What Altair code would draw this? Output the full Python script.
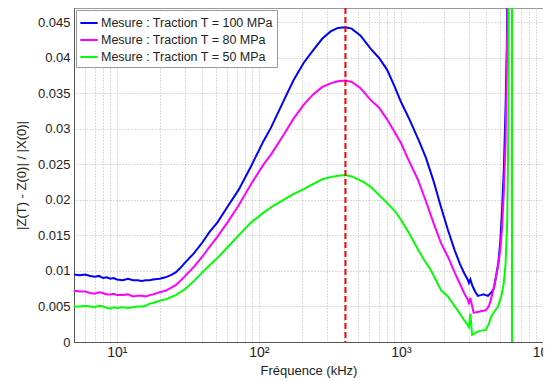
import altair as alt
import pandas as pd

labels = ["Mesure : Traction T = 100 MPa", "Mesure : Traction T = 80 MPa", "Mesure : Traction T = 50 MPa"]
colors = ["#0000ff", "#ff00ff", "#00ff00"]

freq_100 = [5, 5.5, 6, 6.5, 7, 7.5, 8, 8.5, 9, 9.5, 10, 11, 12, 13, 14, 15, 16, 17, 18, 20, 22, 24, 26, 28,
            30, 35, 40, 45, 51, 60, 72, 88, 108, 122, 150, 175, 207, 240, 280, 320, 360, 407, 450, 520, 615,
            700, 800, 900, 1000, 1150, 1340, 1500, 1700, 1900, 2140, 2400, 2600, 2800, 2950, 3010, 3080,
            3200, 3350, 3480, 3650, 3800, 3950, 4100, 4300, 4500, 4670, 4850, 5000, 5150, 5310, 5450, 5570, 5650]
val_100 = [0.0095, 0.0094, 0.0095, 0.0093, 0.0092, 0.0093, 0.0090, 0.0091, 0.0089, 0.0090, 0.0088, 0.0087,
           0.0089, 0.0087, 0.0087, 0.0086, 0.0087, 0.0087, 0.0088, 0.0089, 0.0091, 0.0094, 0.0098, 0.0104,
           0.0111, 0.0125, 0.0140, 0.0155, 0.0168, 0.0190, 0.0214, 0.0247, 0.0283, 0.0302, 0.0340, 0.0368,
           0.0393, 0.0410, 0.0427, 0.0437, 0.0442, 0.0443, 0.0441, 0.0431, 0.0412, 0.0400, 0.0383, 0.0360,
           0.0338, 0.0313, 0.0283, 0.0259, 0.0226, 0.0192, 0.0158, 0.0128, 0.0110, 0.0096, 0.0088, 0.0083,
           0.0088, 0.0078, 0.0070, 0.0065, 0.0066, 0.0067, 0.0066, 0.0065, 0.0069, 0.0075, 0.0092, 0.0112,
           0.0140, 0.0185, 0.0247, 0.0330, 0.0420, 0.0550]

freq_80 = [5, 5.5, 6, 6.5, 7, 7.5, 8, 8.5, 9, 9.5, 10, 11, 12, 13, 14, 15, 16, 17, 18, 20, 22, 24, 26, 28,
           30, 35, 40, 45, 51, 60, 72, 88, 108, 122, 150, 175, 207, 240, 280, 320, 360, 407, 450, 520, 615,
           700, 800, 900, 1000, 1120, 1320, 1550, 1700, 1915, 2140, 2400, 2600, 2800, 2950, 3010, 3080,
           3250, 3400, 3600, 3800, 3960, 4150, 4300, 4550, 4820, 5000, 5150, 5300, 5450, 5620, 5700]
val_80 = [0.0072, 0.0071, 0.0071, 0.0069, 0.0068, 0.0070, 0.0069, 0.0067, 0.0067, 0.0068, 0.0066, 0.0066,
          0.0067, 0.0064, 0.0065, 0.0065, 0.0064, 0.0066, 0.0067, 0.0070, 0.0072, 0.0076, 0.0080, 0.0086,
          0.0092, 0.0106, 0.0120, 0.0134, 0.0148, 0.0168, 0.0192, 0.0222, 0.0250, 0.0264, 0.0292, 0.0314,
          0.0334, 0.0348, 0.0359, 0.0364, 0.0367, 0.0368, 0.0366, 0.0357, 0.0340, 0.0330, 0.0313, 0.0296,
          0.0280, 0.0258, 0.0228, 0.0190, 0.0167, 0.0139, 0.0120, 0.0097, 0.0082, 0.0068, 0.0060, 0.0055,
          0.0062, 0.0041, 0.0042, 0.0043, 0.0044, 0.0045, 0.0050, 0.0060, 0.0080, 0.0106, 0.0130, 0.0160,
          0.0210, 0.0280, 0.0450, 0.0600]

freq_50 = [5, 5.5, 6, 6.5, 7, 7.5, 8, 8.5, 9, 9.5, 10, 11, 12, 13, 14, 15, 16, 17, 18, 20, 22, 24, 26, 28,
           30, 35, 40, 45, 51, 60, 72, 88, 108, 125, 143, 175, 207, 240, 280, 320, 360, 407, 450, 548, 615,
           760, 900, 1000, 1150, 1320, 1450, 1625, 1915, 2140, 2400, 2600, 2800, 2950, 3010, 3080, 3170,
           3350, 3500, 3700, 3960, 4150, 4300, 4550, 4820, 5100, 5300, 5450, 5600, 5700, 5780, 6050, 6051]
val_50 = [0.0050, 0.0050, 0.0051, 0.0050, 0.0049, 0.0051, 0.0050, 0.0048, 0.0047, 0.0049, 0.0048, 0.0049,
          0.0048, 0.0049, 0.0050, 0.0050, 0.0051, 0.0054, 0.0055, 0.0058, 0.0060, 0.0063, 0.0066, 0.0070,
          0.0074, 0.0086, 0.0098, 0.0108, 0.0118, 0.0133, 0.0150, 0.0168, 0.0182, 0.0191, 0.0198, 0.0208,
          0.0215, 0.0222, 0.0229, 0.0232, 0.0234, 0.0235, 0.0233, 0.0225, 0.0218, 0.0200, 0.0185, 0.0172,
          0.0152, 0.0130, 0.0116, 0.0101, 0.0073, 0.0064, 0.0050, 0.0040, 0.0030, 0.0024, 0.0021, 0.0040,
          0.0010, 0.0013, 0.0015, 0.0016, 0.0017, 0.0025, 0.0035, 0.0043, 0.0050, 0.0065, 0.0083, 0.0110,
          0.0170, 0.0300, 0.0600, 0.0600, -0.0050]

peak_freq = [407]

y_ticks = [0, 0.005, 0.01, 0.015, 0.02, 0.025, 0.03, 0.035, 0.04, 0.045]
x_grid = [5, 6, 7, 8, 9, 10, 20, 30, 40, 50, 60, 70, 80, 90, 100, 200, 300, 400, 500, 600, 700, 800, 900,
          1000, 2000, 3000, 4000, 5000, 6000, 7000, 8000, 9000, 10000]

rows = []
for lab, fs, vs in zip(labels, [freq_100, freq_80, freq_50], [val_100, val_80, val_50]):
    for i, (f, v) in enumerate(zip(fs, vs)):
        rows.append({"f": f, "v": v, "serie": lab, "i": i})
df = pd.DataFrame(rows)

FONT = "Liberation Sans"
label_expr = ("datum.value == 10 ? '10¹' : datum.value == 100 ? '10²' : "
              "datum.value == 1000 ? '10³' : datum.value == 10000 ? '10⁴' : ''")

xscale = alt.Scale(type="log", domain=[5, 10000], nice=False)

lines = alt.Chart(df).mark_line(clip=True, strokeWidth=2).encode(
    x=alt.X("f:Q", scale=xscale,
            axis=alt.Axis(values=x_grid, labelExpr=label_expr, grid=True, gridDash=[1, 2],
                          gridColor="#b8b8b8", ticks=False, title="Fréquence (kHz)",
                          labelFontSize=14, labelPadding=3, titleFontSize=13, titlePadding=5,
                          labelFlush=False, labelOverlap=False)),
    y=alt.Y("v:Q", scale=alt.Scale(domain=[0, 0.047], nice=False),
            axis=alt.Axis(values=y_ticks, format="~g", grid=True, gridDash=[1, 2], gridColor="#b8b8b8",
                          ticks=False, title="|Z(T) - Z(0)| / |X(0)|", labelFontSize=13,
                          labelPadding=4, titleFontSize=13, titlePadding=9)),
    color=alt.Color("serie:N", scale=alt.Scale(domain=labels, range=colors),
                    legend=alt.Legend(title=None, orient="top-left", offset=2, symbolType="stroke",
                                      symbolSize=300, symbolStrokeWidth=2, labelFontSize=12.5,
                                      labelFont=FONT, labelLimit=0, fillColor="white", strokeColor="#999",
                                      padding=3, rowPadding=0, labelOffset=2, labelColor="#222")),
    order="i:Q",
)

rule = alt.Chart(pd.DataFrame({"f": peak_freq})).mark_rule(
    color="#ff0000", strokeDash=[6, 3], strokeWidth=2
).encode(x=alt.X("f:Q", scale=xscale))

chart = alt.layer(lines, rule).properties(
    width=469, height=334,
    autosize=alt.AutoSizeParams(type="none"),
    padding={"left": 66, "top": 0, "right": 0, "bottom": 39},
).configure_view(stroke="#999", strokeWidth=1).configure_axis(
    labelFont=FONT, titleFont=FONT, titleFontWeight="normal", labelColor="#222", titleColor="#222",
    domainColor="#555"
)

chart.save("out.html", embed_options={"renderer": "svg", "actions": False})
